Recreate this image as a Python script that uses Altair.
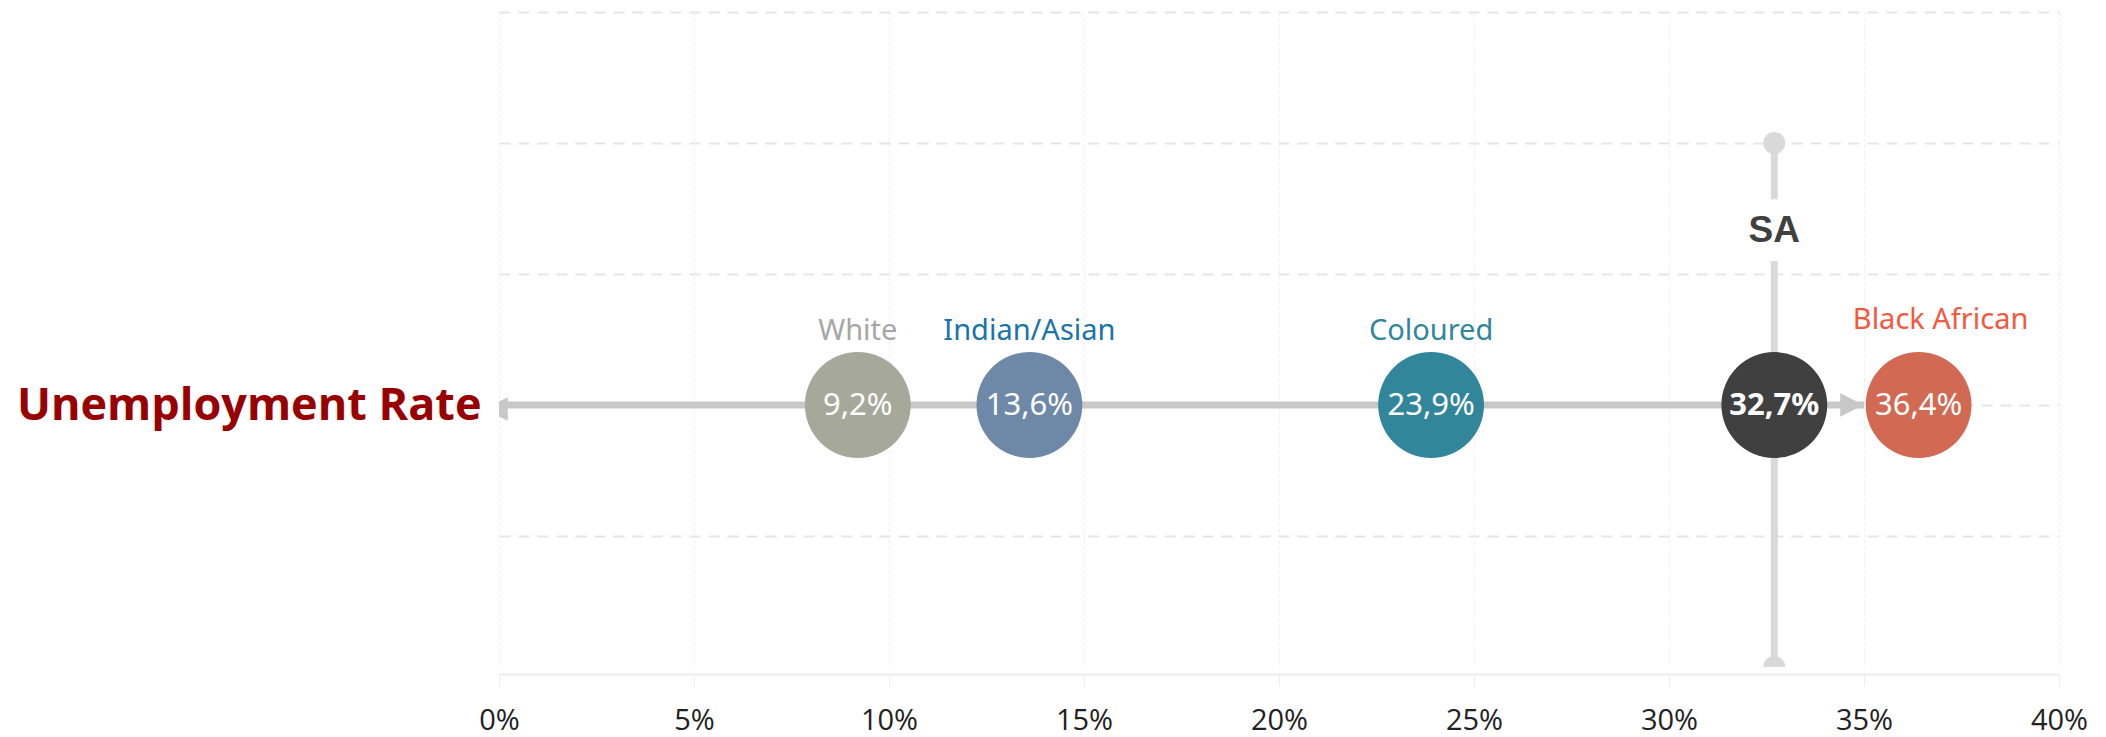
import altair as alt
import pandas as pd

# ---- data ----
groups = ["White", "Indian/Asian", "Coloured", "SA", "Black African"]
rates = [9.2, 13.6, 23.9, 32.7, 36.4]
value_labels = ["9,2%", "13,6%", "23,9%", "32,7%", "36,4%"]
circle_colors = ["#a6a899", "#6e88a8", "#31869b", "#404040", "#d26952"]
label_colors = ["#a6a6a6", "#1b73aa", "#31869b", "#404040", "#f4583d"]
row_y = 2
row_title = "Unemployment Rate"

line_start = 0
line_end = 35
sa_rate = 32.7
sa_line_segments = [(0, 3.1), (3.57, 4)]
sa_label_y = 3.33
x_ticks = [0, 5, 10, 15, 20, 25, 30, 35, 40]
y_grid = [1, 2, 3, 4, 5]

df = pd.DataFrame({
    "group": groups, "rate": rates, "vlabel": value_labels,
    "ccolor": circle_colors, "lcolor": label_colors,
    "y": [row_y] * len(groups),
})

x_scale = alt.Scale(domain=[0, 40], nice=False, zero=False)
y_scale = alt.Scale(domain=[0, 5], nice=False, zero=False)

X = alt.X("x:Q", scale=x_scale, axis=alt.Axis(
    values=x_ticks, labelExpr="datum.value + '%'", title=None,
    grid=True, gridColor="#eeeeee", gridDash=[3, 3], gridWidth=1,
    domain=True, domainColor="#ececec", domainWidth=2,
    ticks=True, tickColor="#ececec", tickSize=12, tickWidth=1,
    offset=7, labelFontSize=29, labelColor="#222222", labelPadding=20,
    labelFlush=False, labelFont="Open Sans"))
Y = alt.Y("y:Q", scale=y_scale, axis=alt.Axis(
    values=y_grid, title=None, grid=True, gridColor="#e6e6e6",
    gridDash=[11, 8], gridWidth=2, domain=False, ticks=False,
    labelExpr=f"datum.value == {row_y} ? '{row_title}' : ''",
    labelFontSize=45, labelFontWeight="bold", labelColor="#990000",
    labelFont="Open Sans", labelPadding=18, labelBaseline="middle", labelLimit=600))

base_grid = alt.Chart(pd.DataFrame({"x": [0], "y": [0]})).mark_point(opacity=0).encode(x=X, y=Y)

# horizontal line
hline = alt.Chart(pd.DataFrame({"x": [line_start], "x2": [line_end], "y": [row_y]})).mark_rule(
    color="#c8c8c8", strokeWidth=7).encode(
    x=alt.X("x:Q", scale=x_scale), x2="x2:Q", y=alt.Y("y:Q", scale=y_scale))

arrow_right = alt.Chart(pd.DataFrame({"x": [line_end], "y": [row_y]})).mark_point(
    shape="M-1,-1L1,0L-1,1Z", filled=True, color="#c8c8c8", opacity=1, size=560,
    xOffset=-12).encode(x=alt.X("x:Q", scale=x_scale), y=alt.Y("y:Q", scale=y_scale))

arrow_left = alt.Chart(pd.DataFrame({"x": [line_start], "y": [row_y]})).mark_point(
    shape="M1,-1L-1,0L1,1Z", filled=True, color="#c8c8c8", opacity=1, size=560,
    xOffset=-3, yOffset=4, clip=True).encode(x=alt.X("x:Q", scale=x_scale), y=alt.Y("y:Q", scale=y_scale))

# SA vertical line
seg_df = pd.DataFrame({"x": [sa_rate] * len(sa_line_segments),
                       "y": [s[0] for s in sa_line_segments],
                       "y2": [s[1] for s in sa_line_segments]})
vline = alt.Chart(seg_df).mark_rule(color="#d9d9d9", strokeWidth=7).encode(
    x=alt.X("x:Q", scale=x_scale), y=alt.Y("y:Q", scale=y_scale), y2="y2:Q")

dots_df = pd.DataFrame({"x": [sa_rate, sa_rate], "y": [sa_line_segments[0][0], sa_line_segments[-1][1]]})
vdots = alt.Chart(dots_df).mark_circle(color="#d9d9d9", opacity=1, size=484, clip=True).encode(
    x=alt.X("x:Q", scale=x_scale), y=alt.Y("y:Q", scale=y_scale))

sa_text = alt.Chart(pd.DataFrame({"x": [sa_rate], "y": [sa_label_y], "t": ["SA"]})).mark_text(
    font="Liberation Sans", fontWeight="bold", fontSize=37, color="#404040",
    baseline="middle", align="center").encode(
    x=alt.X("x:Q", scale=x_scale), y=alt.Y("y:Q", scale=y_scale), text="t:N")

# circles
circles = alt.Chart(df).mark_circle(opacity=1, size=11200).encode(
    x=alt.X("rate:Q", scale=x_scale), y=alt.Y("y:Q", scale=y_scale),
    color=alt.Color("ccolor:N", scale=None))

vals_normal = alt.Chart(df).transform_filter("datum.group != 'SA'").mark_text(
    font="Noto Sans", fontSize=31, color="white", baseline="middle", align="center", dy=1).encode(
    x=alt.X("rate:Q", scale=x_scale), y=alt.Y("y:Q", scale=y_scale), text="vlabel:N")

vals_sa = alt.Chart(df).transform_filter("datum.group == 'SA'").mark_text(
    font="Noto Sans", fontSize=31, fontWeight="bold", color="white", baseline="middle",
    align="center", dy=1).encode(
    x=alt.X("rate:Q", scale=x_scale), y=alt.Y("y:Q", scale=y_scale), text="vlabel:N")

cat_labels = alt.Chart(df).transform_filter(
    "datum.group != 'SA' && datum.group != 'Black African'").mark_text(
    font="Noto Sans", fontSize=29, baseline="alphabetic", align="center", dy=-65).encode(
    x=alt.X("rate:Q", scale=x_scale), y=alt.Y("y:Q", scale=y_scale), text="group:N",
    color=alt.Color("lcolor:N", scale=None))

black_label = alt.Chart(df).transform_filter("datum.group == 'Black African'").mark_text(
    font="Noto Sans", fontSize=29, baseline="alphabetic", align="center", dy=-76, dx=22).encode(
    x=alt.X("rate:Q", scale=x_scale), y=alt.Y("y:Q", scale=y_scale), text="group:N",
    color=alt.Color("lcolor:N", scale=None))

chart = alt.layer(
    base_grid, hline, arrow_left, arrow_right, vline, vdots, sa_text,
    circles, vals_normal, vals_sa, cat_labels, black_label
).properties(
    width=1560, height=655,
    background="white",
    autosize=alt.AutoSizeParams(type="none"),
    padding={"left": 491, "top": 4, "right": 39, "bottom": 70},
).configure_view(stroke=None, strokeWidth=0)

chart.save("out.html", embed_options={"renderer": "svg", "actions": False})
